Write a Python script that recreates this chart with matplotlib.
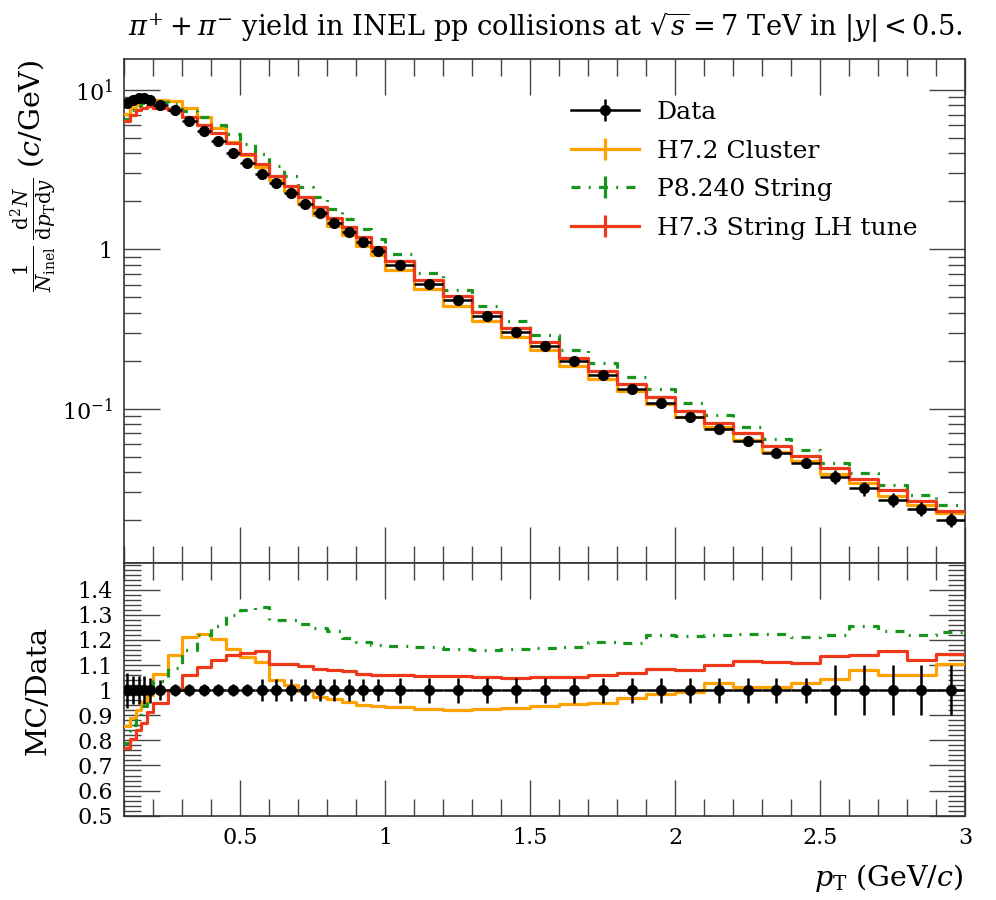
import numpy as np
import matplotlib
matplotlib.use("Agg")
import matplotlib.pyplot as plt
from matplotlib.lines import Line2D
from matplotlib.ticker import FixedLocator, MultipleLocator, NullFormatter

plt.rcParams["font.family"] = ["DejaVu Serif"]
plt.rcParams["mathtext.fontset"] = "dejavuserif"

# bin edges in pT (GeV/c)
edges = np.array([0.10, 0.12, 0.14, 0.16, 0.18, 0.20,
                  0.25, 0.30, 0.35, 0.40, 0.45, 0.50, 0.55, 0.60, 0.65,
                  0.70, 0.75, 0.80, 0.85, 0.90, 0.95, 1.00,
                  1.1, 1.2, 1.3, 1.4, 1.5, 1.6, 1.7, 1.8, 1.9, 2.0,
                  2.1, 2.2, 2.3, 2.4, 2.5, 2.6, 2.7, 2.8, 2.9, 3.0])

# ALICE data, 1/N dN/dpTdy
data = np.array([8.3, 8.7, 8.9, 8.9, 8.7,
                 8.1, 7.5, 6.4, 5.55, 4.8, 4.05, 3.47, 2.97, 2.60, 2.27,
                 1.94, 1.70, 1.46, 1.29, 1.12, 0.98,
                 0.80, 0.61, 0.48, 0.383, 0.305, 0.248, 0.198, 0.163, 0.133, 0.109,
                 0.0892, 0.0745, 0.0628, 0.0527, 0.0455, 0.0374, 0.0317, 0.0268, 0.0236, 0.0201])
# relative uncertainty of data
data_relerr = np.array([0.07, 0.055, 0.055, 0.055, 0.05,
                        0.04, 0.025, 0.025, 0.025, 0.025, 0.025, 0.025, 0.045, 0.045, 0.045,
                        0.045, 0.045, 0.045, 0.045, 0.045, 0.045,
                        0.05, 0.05, 0.05, 0.05, 0.05, 0.05, 0.05, 0.05, 0.05, 0.05,
                        0.05, 0.05, 0.05, 0.05, 0.05, 0.1, 0.1, 0.1, 0.1, 0.1])

# MC / Data
ratio_h72 = np.array([0.857, 0.89, 0.92, 0.953, 0.98,
                      1.066, 1.139, 1.212, 1.223, 1.202, 1.162, 1.133, 1.113, 1.042, 1.02,
                      0.997, 0.973, 0.963, 0.951, 0.94, 0.938,
                      0.934, 0.926, 0.92, 0.924, 0.93, 0.938, 0.943, 0.947, 0.967, 0.983,
                      0.993, 1.027, 1.013, 1.013, 1.027, 1.046, 1.08, 1.06, 1.06, 1.104])
ratio_p8 = np.array([0.79, 0.86, 0.895, 0.935, 0.98,
                     1.037, 1.09, 1.16, 1.22, 1.256, 1.30, 1.32, 1.332, 1.28, 1.28,
                     1.263, 1.246, 1.236, 1.206, 1.193, 1.18,
                     1.175, 1.17, 1.162, 1.16, 1.162, 1.166, 1.173, 1.193, 1.189, 1.219,
                     1.215, 1.219, 1.223, 1.223, 1.212, 1.219, 1.256, 1.236, 1.219, 1.232])
ratio_h73 = np.array([0.769, 0.805, 0.84, 0.87, 0.914,
                      0.947, 1.0, 1.06, 1.093, 1.12, 1.14, 1.146, 1.157, 1.104, 1.104,
                      1.096, 1.086, 1.082, 1.077, 1.066, 1.062,
                      1.06, 1.057, 1.057, 1.053, 1.05, 1.053, 1.053, 1.06, 1.069, 1.085,
                      1.082, 1.1, 1.116, 1.113, 1.109, 1.137, 1.14, 1.155, 1.12, 1.142])

labels = ["Data", "H7.2 Cluster", "P8.240 String", "H7.3 String LH tune"]
c_h72 = "#ffa200"
c_p8 = "#17951c"
c_h73 = "#ee3a1a"
dashdot = (0, (2.8, 2.6, 0.6, 2.6))

centers = 0.5 * (edges[1:] + edges[:-1])
halfw = 0.5 * (edges[1:] - edges[:-1])

fig = plt.figure(figsize=(9.96, 9.0), dpi=100)
ax = fig.add_axes([124 / 996, 1 - 563.3 / 900, (965 - 124) / 996, (563.3 - 59.3) / 900])
axr = fig.add_axes([124 / 996, 1 - 815.7 / 900, (965 - 124) / 996, (815.7 - 563.3) / 900], sharex=ax)

lw = 2.3
mc_styles = [
    (ratio_h72, dict(color=c_h72, lw=lw)),
    (ratio_p8, dict(color=c_p8, lw=lw, ls=dashdot)),
    (ratio_h73, dict(color=c_h73, lw=lw)),
]


def step_y(vals):
    return np.append(vals, vals[-1])


for r, st in mc_styles:
    ax.step(edges, step_y(r * data), where="post", zorder=3, **st)
    axr.step(edges, step_y(r), where="post", zorder=3, **st)

ax.errorbar(centers, data, xerr=halfw, yerr=data * data_relerr, fmt="o", color="black",
            ms=7, elinewidth=1.8, capsize=0, zorder=5)
axr.errorbar(centers, np.ones_like(centers), xerr=halfw, yerr=data_relerr, fmt="o",
             color="black", ms=7, elinewidth=1.8, capsize=0, zorder=5)

# axes ranges
ax.set_yscale("log")
ax.set_xlim(0.1, 3.0)
ax.set_ylim(0.01073, 15.58)
axr.set_ylim(0.5, 1.505)

tick_fs = 16
for a in (ax, axr):
    a.tick_params(which="both", direction="in", top=True, right=True, width=1.0, color="#444444")
    a.tick_params(which="major", length=26)
    a.tick_params(which="minor", length=12)
    a.xaxis.set_major_locator(MultipleLocator(0.5))
    a.xaxis.set_minor_locator(MultipleLocator(0.1))
    for s in a.spines.values():
        s.set_linewidth(1.2)
        s.set_color("#333333")

ax.yaxis.set_major_locator(FixedLocator([0.1, 1, 10]))
ax.set_yticklabels([r"$10^{-1}$", "1", r"$10^{1}$"], fontsize=tick_fs)
ax.yaxis.set_minor_locator(FixedLocator(
    [m * 10.0 ** e for e in (-2, -1, 0, 1) for m in range(2, 10)]))
ax.yaxis.set_minor_formatter(NullFormatter())
plt.setp(ax.get_xticklabels(), visible=False)

rt = np.round(np.arange(0.5, 1.41, 0.1), 1)
axr.yaxis.set_major_locator(FixedLocator(rt))
axr.set_yticklabels(["1" if v == 1.0 else f"{v:.1f}" for v in rt], fontsize=tick_fs)
axr.yaxis.set_minor_locator(MultipleLocator(0.02))
axr.set_xticks([0.5, 1, 1.5, 2, 2.5, 3])
axr.set_xticklabels(["0.5", "1", "1.5", "2", "2.5", "3"], fontsize=tick_fs)
axr.tick_params(axis="x", pad=8)
for a in (ax, axr):
    a.tick_params(axis="y", pad=8)

# texts
fig.text(0.967, 1 - 28 / 900,
         r"$\pi^{+} + \pi^{-}$ yield in INEL pp collisions at $\sqrt{s} = 7$ TeV in $|y| < 0.5$.",
         ha="right", va="center", fontsize=19.6)
fig.text(34 / 996, 1 - 60 / 900,
         r"$\frac{1}{N_\mathrm{inel}}\,\frac{\mathrm{d}^2N}{\mathrm{d}p_\mathrm{T}\mathrm{d}y}$ ($c$/GeV)",
         rotation=90, ha="center", va="top", fontsize=20.5)
fig.text(38 / 996, 1 - 690 / 900, "MC/Data", rotation=90, ha="center", va="center", fontsize=20.5)
fig.text(0.967, 1 - 878 / 900, r"$p_\mathrm{T}$ (GeV/$c$)", ha="right", va="center", fontsize=20.5)

# legend
h_data = (Line2D([], [], color="black", lw=1.8, marker="o", ms=7),
          Line2D([], [], color="black", ls="none", marker="|", ms=16, mew=1.8))
h_h72 = (Line2D([], [], color=c_h72, lw=lw),
         Line2D([], [], color=c_h72, ls="none", marker="|", ms=16, mew=lw))
h_p8 = (Line2D([], [], color=c_p8, lw=lw, ls=dashdot),
        Line2D([], [], color=c_p8, ls="none", marker="|", ms=16, mew=lw))
h_h73 = (Line2D([], [], color=c_h73, lw=lw),
         Line2D([], [], color=c_h73, ls="none", marker="|", ms=16, mew=lw))
ax.legend([h_data, h_h72, h_p8, h_h73], labels, loc="upper left",
          bbox_to_anchor=(0.52, 0.937), frameon=False, fontsize=18,
          handlelength=2.7, handletextpad=0.72, labelspacing=0.62, borderaxespad=0)

fig.savefig("out.png", dpi=100)
